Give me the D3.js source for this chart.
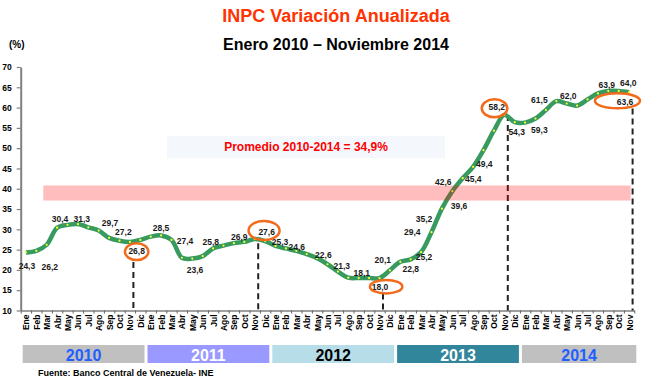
<!DOCTYPE html>
<html><head><meta charset="utf-8">
<script src="https://cdn.jsdelivr.net/npm/d3@7"></script>
<style>
body{margin:0;background:#fff;}
svg{display:block;font-family:"Liberation Sans",Arial,sans-serif;}
</style></head>
<body><svg id="c" width="645" height="380"></svg>
<script>
// ---------- DATA ----------
const monthNames = ["Ene","Feb","Mar","Abr","May","Jun","Jul","Ago","Sep","Oct","Nov","Dic"];
const years = ["2010","2011","2012","2013","2014"];
const monthsPerYear = [12,12,12,12,11];
const values2010 = [24.3,24.7,26.2,30.4,31.1,31.3,30.5,29.7,27.9,27.2,26.9,27.4];
const values2011 = [28.2,28.5,27.4,23.0,22.8,23.4,25.3,26.0,26.6,26.9,27.6,27.1];
const values2012 = [25.9,25.3,24.7,23.9,22.9,21.4,19.6,18.1,18.0,18.0,18.0,19.9];
const values2013 = [22.0,22.6,24.4,29.3,35.1,39.4,42.6,45.4,49.5,54.3,58.2,56.4];
const values2014 = [56.3,57.3,59.4,61.6,61.0,60.5,62.0,63.5,64.1,64.1,63.8];
const yTicks = [10,15,20,25,30,35,40,45,50,55,60,65,70];
// point labels: text, month position, value position (data coords)
const labelTexts = ["24,3","26,2","30,4","31,3","29,7","27,2","26,8","28,5","27,4","23,6","25,8","26,9","27,6","25,3","24,6","22,6","21,3","18,1","20,1","18,0","22,8","25,2","29,4","35,2","39,6","42,6","45,4","49,4","58,2","54,3","59,3","61,5","62,0","63,9","64,0","63,6"];
const labelMonth = [0.1,2.3,3.28,5.37,8.09,9.37,10.65,12.99,15.3,16.26,17.77,20.52,23.15,24.43,26.04,28.6,30.37,32.29,34.31,34.05,37.0,38.28,37.15,38.28,41.64,40.13,43.02,44.08,45.27,47.19,49.37,49.37,52.15,55.85,57.92,57.61];
const labelValue = [21.0,20.65,32.55,32.47,31.64,29.27,24.6,30.4,27.2,19.98,26.81,28.04,29.27,26.81,25.57,23.68,21.04,19.31,22.44,15.87,20.15,23.11,29.42,32.55,35.75,41.59,42.41,46.1,60.22,54.06,54.48,61.87,62.93,65.57,66.14,61.31];
// highlighted (circled) labels: month position, value position
const circleMonth = [10.65,22.9,34.64,45.06,56.88];
const circleValue = [24.49,29.71,15.87,59.83,61.68];
// Nov markers (dashed lines): month index and top value
const novIndex = [10,22,34,46,58];
const novTop = [21.95,26.6,14.2,58.2,59.8];
const bandRange = [37.1,40.8];
const average = 34.9;
const avgText = "Promedio 2010-2014 = 34,9%";

// ---------- STYLE ----------
const yearFill = ["#c0c0c0","#9999ff","#b7dee8","#31869b","#c0c0c0"];
const yearText = ["#1f5fff","#ffffff","#000000","#ffffff","#1f5fff"];

const values = [].concat(values2010,values2011,values2012,values2013,values2014);
const monthLabels = [];
monthsPerYear.forEach(n=>{for(let k=0;k<n;k++) monthLabels.push(monthNames[k]);});

const svg = d3.select("#c");
const pLeft = 20.7, pRight = 634.3, pTop = 67, pBottom = 310.5;
const N = values.length;
const x = d3.scaleLinear().domain([-0.5, N-0.5]).range([pLeft,pRight]);
const y = d3.scaleLinear().domain([10,70]).range([pBottom,pTop]);

// titles
svg.append("text").attr("x",336).attr("y",22).attr("text-anchor","middle")
  .attr("font-size",18).attr("font-weight","bold").attr("fill","#ff3300").text("INPC Variación Anualizada");
svg.append("text").attr("x",336).attr("y",50).attr("text-anchor","middle")
  .attr("font-size",16).attr("font-weight","bold").attr("fill","#000").text("Enero 2010 – Noviembre 2014");
svg.append("text").attr("x",9).attr("y",48)
  .attr("font-size",10).attr("font-weight","bold").attr("fill","#000").text("(%)");

// average box
svg.append("rect").attr("x",x(13.57)).attr("y",y(53.0)).attr("width",x(40.3)-x(13.57)).attr("height",y(47.58)-y(53.0)).attr("fill","#f4f8fc");
svg.append("text").attr("x",(x(13.57)+x(40.3))/2).attr("y",y(50.3)).attr("dy","0.35em").attr("text-anchor","middle")
  .attr("font-size",12).attr("font-weight","bold").attr("fill","#ff0000").text(avgText);

// y axis
const ya = svg.append("g").attr("transform",`translate(${pLeft},0)`)
  .call(d3.axisLeft(y).tickValues(yTicks).tickSize(4).tickSizeOuter(0).tickPadding(5));
ya.select(".domain").attr("stroke","#808080").attr("stroke-width",2);
ya.selectAll(".tick line").attr("stroke","#808080").attr("stroke-width",1.2);
ya.selectAll(".tick text").attr("font-size",8.5).attr("font-weight","bold").attr("fill","#000").attr("font-family","Liberation Sans, Arial, sans-serif");

// x axis
const xa = svg.append("g").attr("transform",`translate(0,${pBottom})`)
  .call(d3.axisBottom(x).tickValues(d3.range(-0.5,N,1)).tickSize(3).tickSizeOuter(0).tickFormat(""));
xa.select(".domain").attr("stroke","#808080").attr("stroke-width",1.5);
xa.selectAll(".tick line").attr("stroke","#606060");
const xl = svg.append("g").attr("transform",`translate(0,${pBottom})`)
  .call(d3.axisBottom(x).tickValues(d3.range(N)).tickSize(0).tickFormat(i=>monthLabels[i]));
xl.select(".domain").remove();
xl.selectAll(".tick text").attr("transform","rotate(-90)").attr("x",-4).attr("y",0).attr("dy","0.35em")
  .attr("text-anchor","end").attr("font-size",8.5).attr("font-weight","bold").attr("fill","#000")
  .attr("font-family","Liberation Sans, Arial, sans-serif");

// dashed Nov lines
svg.append("g").selectAll("line").data(novIndex).join("line")
  .attr("x1",(d)=>x(d)+3.5).attr("x2",(d)=>x(d)+3.5)
  .attr("y1",(d,i)=>y(novTop[i])).attr("y2",pBottom)
  .attr("stroke","#222").attr("stroke-width",2).attr("stroke-dasharray","6,4");

// line
const line = d3.line().x((d,i)=>x(i)).y(d=>y(d)).curve(d3.curveCatmullRom.alpha(0.5));
svg.append("path").datum(values).attr("d",line).attr("fill","none")
  .attr("stroke","#379a5f").attr("stroke-width",4.5).attr("stroke-linejoin","round");
svg.append("g").selectAll("circle").data(values).join("circle")
  .attr("cx",(d,i)=>x(i)).attr("cy",d=>y(d)).attr("r",1.1).attr("fill","#ffff33");

// pink band (semi-transparent, over line)
svg.append("rect").attr("x",x(1.67)).attr("width",x(58.15)-x(1.67))
  .attr("y",y(bandRange[1])).attr("height",y(bandRange[0])-y(bandRange[1]))
  .attr("fill","rgba(255,0,0,0.26)");

// labels
svg.append("g").selectAll("text").data(labelTexts).join("text")
  .attr("x",(d,i)=>x(labelMonth[i])).attr("y",(d,i)=>y(labelValue[i])).attr("dy","0.35em")
  .attr("text-anchor","middle").attr("font-size",8.5).attr("font-weight","bold").attr("fill","#1a1a1a").text(d=>d);

// orange ellipses
const erx = [11.7,15.5,16.2,12.8,22.5], ery = [8.4,9.6,6.7,9,7.5];
svg.append("g").selectAll("ellipse").data(circleMonth).join("ellipse")
  .attr("cx",d=>x(d)).attr("cy",(d,i)=>y(circleValue[i])).attr("rx",(d,i)=>erx[i]).attr("ry",(d,i)=>ery[i])
  .attr("fill","none").attr("stroke","#f26a1b").attr("stroke-width",2.5);

// year bars
let start = 0;
const yb = svg.append("g");
years.forEach((yr,k)=>{
  const x0 = x(start-0.5)+2, x1 = Math.min(x(start-0.5+12)-1, pRight+2);
  yb.append("rect").attr("x",x0).attr("y",345).attr("width",x1-x0).attr("height",18).attr("fill",yearFill[k]);
  yb.append("text").attr("x",(x0+x1)/2).attr("y",361).attr("text-anchor","middle").attr("font-size",16)
    .attr("font-weight","bold").attr("fill",yearText[k]).text(yr);
  start += 12;
});

svg.append("text").attr("x",38).attr("y",376).attr("font-size",9).attr("font-weight","bold").attr("fill","#000")
  .text("Fuente: Banco Central de Venezuela- INE");
</script></body></html>
